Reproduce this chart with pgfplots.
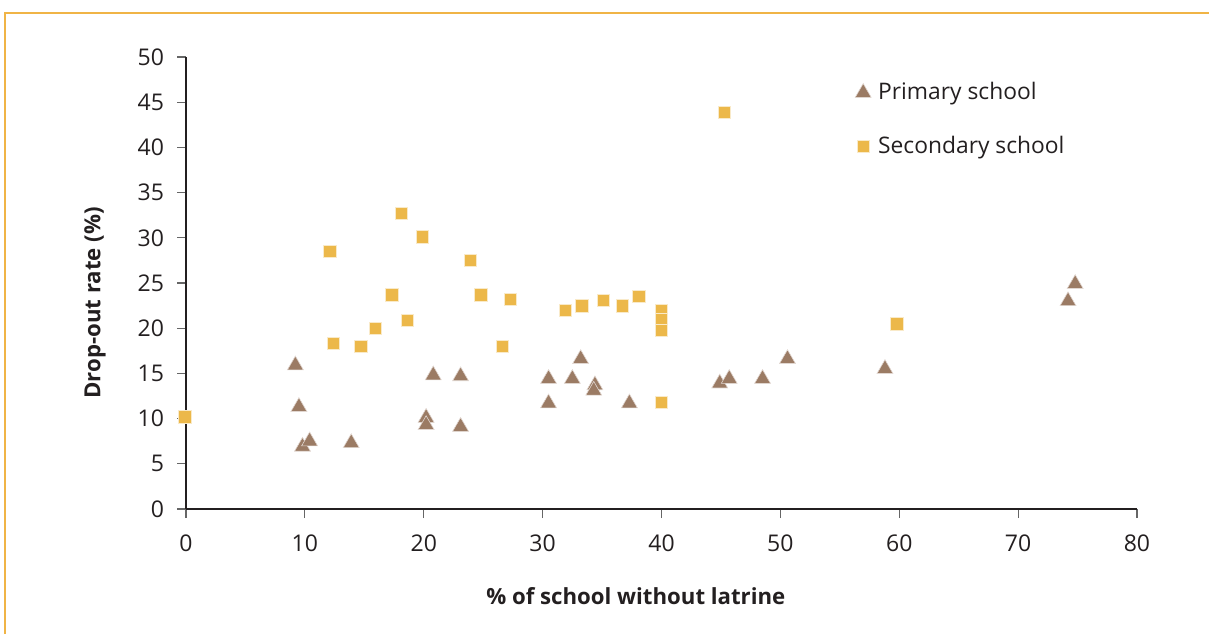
\documentclass[border=0pt]{standalone}
\usepackage{pgfplots}
\pgfplotsset{compat=1.18}
\usepackage{fontspec}
\setmainfont{Open Sans}
\definecolor{prim}{RGB}{155,123,100}
\definecolor{sec}{RGB}{236,184,74}
\definecolor{frame}{RGB}{240,180,70}
\definecolor{axcol}{RGB}{35,31,32}
\begin{document}
\begin{tikzpicture}[x=1pt,y=1pt]
\path[use as bounding box] (0,0) rectangle (604.5,317);
\draw[frame, line width=1pt] (2.25,0) -- (2.25,310.75) -- (604.5,310.75);
\begin{axis}[
  at={(93pt,62.5pt)}, anchor=south west,
  scale only axis, width=475.5pt, height=226pt,
  xmin=0, xmax=80, ymin=0, ymax=50,
  xtick={0,10,...,80}, ytick={0,5,...,50},
  axis lines=left, axis line style={axcol, line width=0.7pt, -},
  tick style={gray!80!black, line width=0.6pt},
  tick align=outside, major tick length=4.5pt,
  clip=false,
  tick label style={font=\fontsize{11.5}{13}\selectfont, text=axcol},
  /pgf/number format/assume math mode=true,
  xticklabel style={yshift=-5pt},
  yticklabel style={xshift=-3pt},
  xlabel={\textbf{\% of school without latrine}},
  ylabel={\textbf{Drop-out rate (\%)}},
  xlabel style={at={(axis description cs:0.473,-0.1925)}, anchor=center, font=\fontsize{11.1}{13}\selectfont, text=axcol},
  ylabel style={at={(axis description cs:-0.0957,0.456)}, anchor=center, rotate=0, font=\fontsize{11.1}{13}\selectfont, text=axcol},
  legend style={at={(axis description cs:0.697,0.962)}, anchor=north west, draw=none, fill=none,
    font=\fontsize{11.4}{13}\selectfont, row sep=12.5pt, text=axcol,
    /tikz/every odd column/.append style={column sep=1.5pt}},
  legend cell align=left,
  legend image code/.code={\draw[#1] (0pt,0pt) plot coordinates {(0pt,0pt)};},
]
\addplot[only marks, mark=triangle*, mark size=4.6pt, mark options={fill=prim, draw=white!70!prim, line width=0.3pt}] coordinates {
(9.2,15.9) (9.5,11.3) (9.8,6.9) (10.4,7.5) (13.9,7.3) (20.2,10.1) (20.2,9.3) (20.8,14.8)
(23.1,14.7) (23.1,9.1) (30.5,14.4) (30.5,11.7) (32.5,14.4) (33.2,16.6) (34.4,13.7) (34.3,13.1)
(37.3,11.7) (44.9,13.9) (45.7,14.4) (48.5,14.4) (50.6,16.6) (58.8,15.5) (74.2,23.0) (74.8,24.9)
};
\addlegendentry{Primary school}
\addplot[only marks, mark=square*, mark size=3.1pt, mark options={fill=sec, draw=white!70!sec, line width=0.3pt}] coordinates {
(-0.1,10.2) (12.1,28.5) (18.1,32.7) (19.9,30.1) (23.9,27.5) (17.3,23.7) (24.8,23.7) (27.3,23.2)
(18.6,20.9) (15.9,20.0) (12.4,18.3) (14.7,18.0) (26.6,18.0) (31.9,22.0) (33.3,22.5) (35.1,23.1)
(36.7,22.5) (38.1,23.5) (40.0,22.0) (40.0,21.0) (40.0,19.8) (40.0,11.8) (45.3,43.9) (59.8,20.5)
};
\addlegendentry{Secondary school}
\end{axis}
\end{tikzpicture}
\end{document}
